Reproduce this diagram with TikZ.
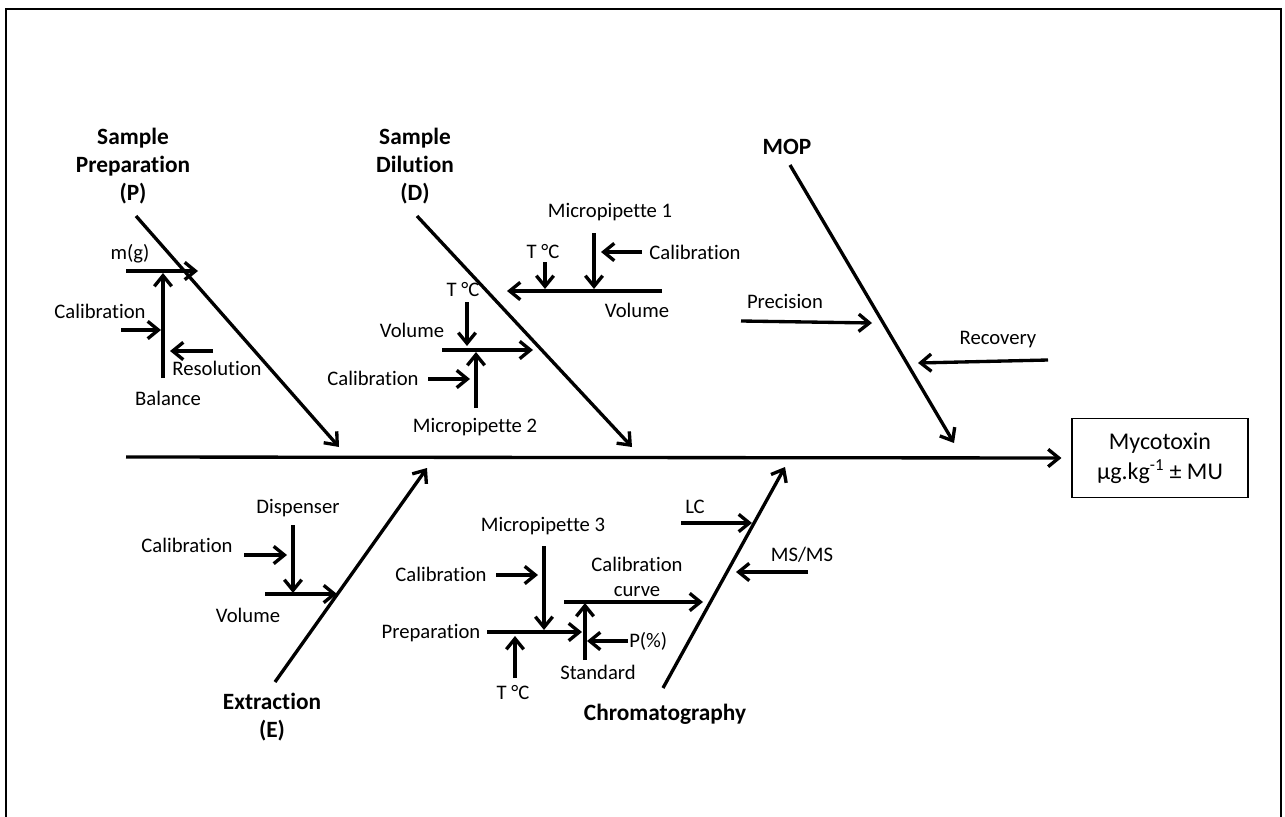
\documentclass[tikz,border=0pt]{standalone}
\usepackage{fontspec}
\setmainfont{Carlito}[Ligatures={NoCommon}]
\usetikzlibrary{arrows.meta}
\begin{document}
\begin{tikzpicture}[x=0.75pt,y=-0.75pt,
  arr/.style={line width=2.5pt, -{Straight Barb[length=8pt,width=13pt]}},
  lbl/.style={font=\fontsize{15.5}{18}\selectfont, inner sep=0pt},
  cat/.style={font=\bfseries\fontsize{17.5}{21}\selectfont, inner sep=0pt, align=center},
  resbox/.style={draw, line width=0.8pt, minimum width=132pt, minimum height=59pt, align=center, font=\fontsize{18}{22.5}\selectfont},
]
\useasboundingbox (0,0) rectangle (1285,817);
% frame
\draw[line width=1.6pt] (6,817) -- (6,9) -- (1281,9) -- (1281,817);

% result and spine
\node[resbox] (res) at (1160,458) {Mycotoxin\\µg.kg\textsuperscript{-1} ± MU};
\coordinate (spL) at (126,457);
\draw[arr] (spL) -- ([xshift=-7.5pt]res.west);

% ---------- Sample Preparation ----------
\node[cat] (catP) at (133,166) {Sample\\Preparation\\(P)};
\coordinate (p1) at (136,216); \coordinate (p2) at (339,447);
\draw[arr] (p1) -- (p2);
\node[lbl] (pmg) at (130,254) {m(g)};
\coordinate (ph1) at (126,271); \coordinate (ph2) at (198,271);
\draw[arr] (ph1) -- (ph2);
\coordinate (pb1) at (163,378); \coordinate (pb2) at (163,273);
\draw[arr] (pb1) -- (pb2);
\node[lbl] (pbal) at (168,398) {Balance};
\node[lbl] (pcal) at (100,311) {Calibration};
\coordinate (pc1) at (121,330); \coordinate (pc2) at (161,330);
\draw[arr] (pc1) -- (pc2);
\coordinate (pr1) at (213,351); \coordinate (pr2) at (170,351);
\draw[arr] (pr1) -- (pr2);
\node[lbl] (pres) at (217,368) {Resolution};

% ---------- Sample Dilution ----------
\node[cat] (catD) at (415,166) {Sample\\Dilution\\(D)};
\coordinate (d1) at (417,216); \coordinate (d2) at (632,447);
\draw[arr] (d1) -- (d2);
\node[lbl] (dmp1) at (610,212) {Micropipette 1};
\coordinate (dm1a) at (594,233); \coordinate (dm1b) at (594,289);
\draw[arr] (dm1a) -- (dm1b);
\node[lbl] (dcal1) at (695,252) {Calibration};
\coordinate (dc1a) at (642,252); \coordinate (dc1b) at (601,252);
\draw[arr] (dc1a) -- (dc1b);
\node[lbl] (dt1) at (543,252) {T °C};
\coordinate (dt1a) at (545,262); \coordinate (dt1b) at (545,289);
\draw[arr] (dt1a) -- (dt1b);
\coordinate (dv1a) at (662,291); \coordinate (dv1b) at (507,291);
\draw[arr] (dv1a) -- (dv1b);
\node[lbl] (dvol1) at (637,310) {Volume};
\node[lbl] (dt2) at (463,290) {T °C};
\coordinate (dt2a) at (467,302); \coordinate (dt2b) at (467,346);
\draw[arr] (dt2a) -- (dt2b);
\node[lbl] (dvol2) at (412,330) {Volume};
\coordinate (dv2a) at (442,350); \coordinate (dv2b) at (533,350);
\draw[arr] (dv2a) -- (dv2b);
\node[lbl] (dcal2) at (373,378) {Calibration};
\coordinate (dc2a) at (428,379); \coordinate (dc2b) at (470,379);
\draw[arr] (dc2a) -- (dc2b);
\coordinate (dm2a) at (476,408); \coordinate (dm2b) at (476,352);
\draw[arr] (dm2a) -- (dm2b);
\node[lbl] (dmp2) at (475,427) {Micropipette 2};

% ---------- MOP ----------
\node[cat] (catM) at (787,147) {MOP};
\coordinate (m1) at (790,165); \coordinate (m2) at (954,443);
\draw[arr] (m1) -- (m2);
\node[lbl] (mprec) at (785,301) {Precision};
\coordinate (mp1) at (741,321); \coordinate (mp2) at (872,323);
\draw[arr] (mp1) -- (mp2);
\node[lbl] (mrec) at (998,340) {Recovery};
\coordinate (mr1) at (1048,360); \coordinate (mr2) at (918,363);
\draw[arr] (mr1) -- (mr2);

% ---------- Extraction ----------
\node[cat] (catE) at (272,717) {Extraction\\(E)};
\coordinate (e1) at (275,682); \coordinate (e2) at (427,468);
\draw[arr] (e1) -- (e2);
\node[lbl] (edisp) at (298,508) {Dispenser};
\coordinate (ed1) at (293,525); \coordinate (ed2) at (293,593);
\draw[arr] (ed1) -- (ed2);
\node[lbl] (ecal) at (187,545) {Calibration};
\coordinate (ec1) at (244,555); \coordinate (ec2) at (287,555);
\draw[arr] (ec1) -- (ec2);
\coordinate (ev1) at (265,594); \coordinate (ev2) at (337,594);
\draw[arr] (ev1) -- (ev2);
\node[lbl] (evol) at (248,615) {Volume};

% ---------- Chromatography ----------
\node[cat] (catC) at (665,714) {Chromatography};
\coordinate (c1) at (663,688); \coordinate (c2) at (785,467);
\draw[arr] (c1) -- (c2);
\node[lbl] (clc) at (695,507) {LC};
\coordinate (cl1) at (681,523); \coordinate (cl2) at (752,523);
\draw[arr] (cl1) -- (cl2);
\node[lbl] (cms) at (802,555) {MS/MS};
\coordinate (cm1) at (808,572); \coordinate (cm2) at (736,572);
\draw[arr] (cm1) -- (cm2);
\node[lbl] (cmp3) at (543,526) {Micropipette 3};
\coordinate (cp3a) at (544,546); \coordinate (cp3b) at (544,630);
\draw[arr] (cp3a) -- (cp3b);
\node[lbl] (ccal) at (441,574) {Calibration};
\coordinate (cc1) at (496,575); \coordinate (cc2) at (538,575);
\draw[arr] (cc1) -- (cc2);
\node[lbl] (cprep) at (431,633) {Preparation};
\coordinate (cpr1) at (487,632); \coordinate (cpr2) at (582,632);
\draw[arr] (cpr1) -- (cpr2);
\node[lbl] (ct) at (513,692) {T °C};
\coordinate (ct1) at (515,678); \coordinate (ct2) at (515,636);
\draw[arr] (ct1) -- (ct2);
\coordinate (cs1) at (585,660); \coordinate (cs2) at (585,603);
\draw[arr] (cs1) -- (cs2);
\node[lbl] (cstd) at (598,672) {Standard};
\coordinate (cpp1) at (628,641); \coordinate (cpp2) at (587,641);
\draw[arr] (cpp1) -- (cpp2);
\node[lbl, anchor=west] (cpp) at (629,641) {P(\%)};
\coordinate (ccv1) at (564,602); \coordinate (ccv2) at (703,602);
\draw[arr] (ccv1) -- (ccv2);
\node[lbl, align=center, font=\fontsize{15.5}{19}\selectfont] (ccurve) at (637,577) {Calibration\\curve};
\end{tikzpicture}
\end{document}
